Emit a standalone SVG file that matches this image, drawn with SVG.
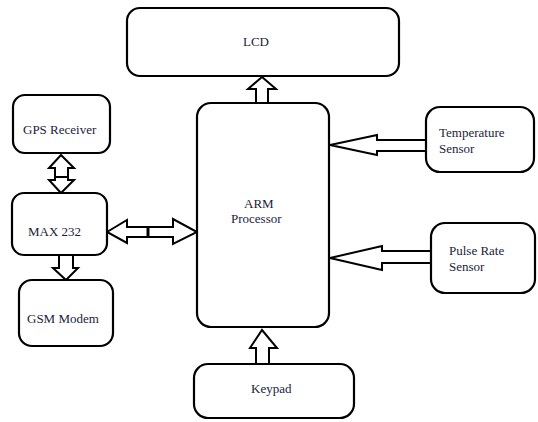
<svg xmlns="http://www.w3.org/2000/svg" width="538" height="422" viewBox="0 0 538 422">
<style>
.box{fill:#fff;stroke:#000;stroke-width:2.2}
.arr{fill:#fff;stroke:#000;stroke-width:2;stroke-linejoin:miter}
.t{font-family:'Liberation Serif','DejaVu Serif',serif;font-size:13px;fill:#1c1c3a}
</style>
<rect width="538" height="422" fill="#fff"/>
<g id="connectors">
<polygon class="arr" points="262,77 276,89 268,89 268,104 256,104 256,89 248,89"/>
<polygon class="arr" points="262,330 277,348 269,348 269,364 256,364 256,348 250,348"/>
<polygon class="arr" points="330,145 377,135 377,140 426,140 426,151 377,151 377,155"/>
<polygon class="arr" points="330,258 382,246 382,251 431,251 431,263 382,263 382,270"/>
<polygon class="arr" points="61,155 74,168 68,168 68,180 74,180 61,193 49,180 55,180 55,168 49,168"/>
<line x1="55" y1="177" x2="68" y2="177" stroke="#000" stroke-width="2"/>
<polygon class="arr" points="66,280 78,268 73,268 73,255 59,255 59,268 53,268"/>
<polygon class="arr" points="107,232 127,220 127,227 173,227 173,219 197,232 173,244 173,237 127,237 127,243"/>
<line x1="148" y1="227" x2="148" y2="237" stroke="#000" stroke-width="3"/>
</g>
<g id="lcd"><rect class="box" x="127" y="8" width="272" height="68" rx="13"/><text class="t" x="243" y="46" font-family="Liberation Serif, serif">LCD</text></g>
<g id="arm"><rect class="box" x="197" y="103" width="132" height="224" rx="14"/><text class="t" x="244" y="208">ARM</text><text class="t" x="231" y="223">Processor</text></g>
<g id="keypad"><rect class="box" x="194" y="364" width="160" height="54" rx="14"/><text class="t" x="251" y="393">Keypad</text></g>
<g id="temp"><rect class="box" x="426" y="107" width="108" height="65" rx="14"/><text class="t" x="439" y="137">Temperature</text><text class="t" x="439" y="153">Sensor</text></g>
<g id="pulse"><rect class="box" x="431" y="223" width="104" height="70" rx="14"/><text class="t" x="449" y="255">Pulse Rate</text><text class="t" x="449" y="271">Sensor</text></g>
<g id="gps"><rect class="box" x="13" y="95" width="97" height="58" rx="12"/><text class="t" x="23" y="134">GPS Receiver</text></g>
<g id="max"><rect class="box" x="12" y="193" width="95" height="62" rx="12"/><text class="t" x="28" y="236">MAX 232</text></g>
<g id="gsm"><rect class="box" x="19" y="280" width="94" height="66" rx="13"/><text class="t" x="27" y="323">GSM Modem</text></g>
</svg>
